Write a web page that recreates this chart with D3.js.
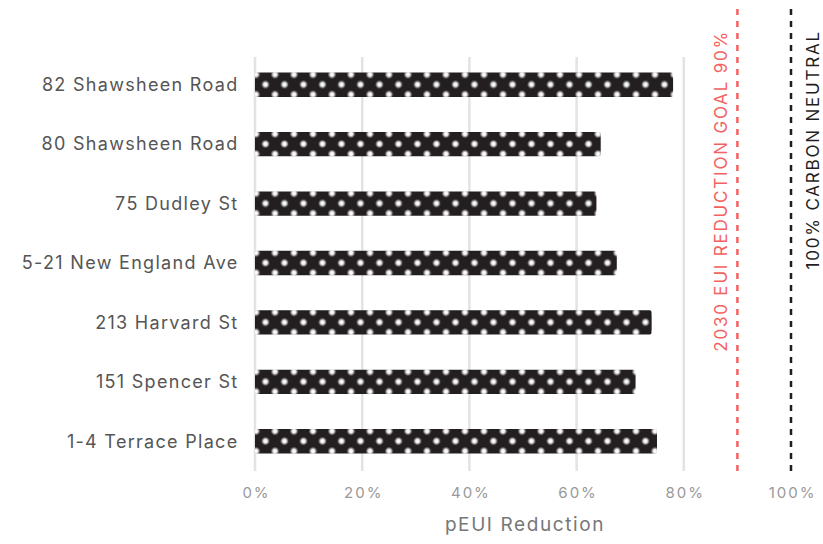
<!DOCTYPE html>
<html>
<head>
<meta charset="utf-8">
<script src="https://cdn.jsdelivr.net/npm/d3@7"></script>
<style>
  body { margin: 0; background: #fff; }
  svg { font-family: "Inter", "Roboto", sans-serif; }
</style>
</head>
<body>
<svg id="chart"></svg>
<script>
const width = 823, height = 544
const margin = {top: 55, bottom: 73, left: 255, right: 32}

// data
const buildings = ["82 Shawsheen Road", "80 Shawsheen Road", "75 Dudley St", "5-21 New England Ave", "213 Harvard St", "151 Spencer St", "1-4 Terrace Place"]
const reductions = [0.78, 0.645, 0.637, 0.675, 0.74, 0.71, 0.75]
const xTicks = [0, 0.2, 0.4, 0.6, 0.8, 1.0]
const goals = [
    {value: 0.9, label: "2030 EUI REDUCTION GOAL 90%", color: "#f4625f"},
    {value: 1.0, label: "100% CARBON NEUTRAL", color: "#1f1f1f"},
]

const svg = d3.select("svg#chart")
    .attr("viewBox", [0, 0, width, height])
    .attr("width", width)
    .attr("height", height)

const xScale = d3.scaleLinear()
    .domain([0, 1])
    .range([margin.left, 791])

const yScale = d3.scaleBand()
    .domain(buildings)
    .range([margin.top, height - margin.bottom])
    .paddingInner(0.59)
    .paddingOuter(0.295)

const defs = svg.append("defs")

const grad = defs.append("radialGradient").attr("id", "dot-grad")
grad.append("stop").attr("offset", "0%").attr("stop-color", "#fff").attr("stop-opacity", 1)
grad.append("stop").attr("offset", "40%").attr("stop-color", "#fff").attr("stop-opacity", 0.95)
grad.append("stop").attr("offset", "100%").attr("stop-color", "#fff").attr("stop-opacity", 0)

// one dotted pattern per bar so every bar starts on the same dot row
defs.selectAll("pattern")
    .data(buildings)
    .enter()
    .append("pattern")
    .attr("id", (d, i) => `dots-${i}`)
    .attr("patternUnits", "userSpaceOnUse")
    .attr("width", 19)
    .attr("height", 20)
    .attr("x", xScale(0) - 3.75)
    .attr("y", d => yScale(d) - 3)
    .each(function () {
        const p = d3.select(this)
        p.append("rect").attr("width", 19).attr("height", 20).attr("fill", "#231f20")
        const pts = [[4.75, 5], [14.25, 15], [-4.75, 15], [23.75, 15], [4.75, 25], [4.75, -5], [14.25, -5], [-4.75, -5], [23.75, -5]]
        p.selectAll("circle")
            .data(pts)
            .enter()
            .append("circle")
            .attr("cx", d => d[0])
            .attr("cy", d => d[1])
            .attr("r", 4.3)
            .attr("fill", "url(#dot-grad)")
    })

// grid lines
svg.append("g").classed("v-grid", true)
    .selectAll("line")
    .data(xTicks.filter(d => d < 1))
    .enter()
    .append("line")
    .attr("x1", d => xScale(d))
    .attr("x2", d => xScale(d))
    .attr("y1", 57)
    .attr("y2", 471)
    .attr("stroke", "#e3e3e3")
    .attr("stroke-width", 2.5)

// bars
svg.append("g").classed("bars", true)
    .selectAll("rect")
    .data(buildings)
    .enter()
    .append("rect")
    .attr("x", xScale(0))
    .attr("y", d => yScale(d))
    .attr("width", (d, i) => xScale(reductions[i]) - xScale(0))
    .attr("height", yScale.bandwidth())
    .attr("rx", 2)
    .attr("fill", (d, i) => `url(#dots-${i})`)

// y labels
svg.append("g").classed("y-labels", true)
    .selectAll("text")
    .data(buildings)
    .enter()
    .append("text")
    .attr("x", 238.5)
    .attr("y", d => yScale(d) + yScale.bandwidth() / 2)
    .attr("dy", "0.35em")
    .attr("text-anchor", "end")
    .attr("font-size", 18)
    .attr("letter-spacing", 1.3)
    .attr("fill", "#555")
    .text(d => d)

// x axis
const xAxis = svg.append("g").classed("x-axis", true)
    .attr("transform", `translate(0, 493)`)
    .call(d3.axisBottom(xScale).tickValues(xTicks).tickFormat(d3.format(".0%")).tickSize(0).tickPadding(0))
xAxis.select(".domain").remove()
xAxis.selectAll("text")
    .attr("dy", "0.35em")
    .attr("dx", 1)
    .attr("font-size", 15)
    .attr("letter-spacing", 2)
    .attr("font-family", "Inter, Roboto, sans-serif")
    .attr("fill", "#999")

svg.append("text")
    .attr("x", (xScale(0) + xScale(1)) / 2 + 2)
    .attr("y", 524)
    .attr("dy", "0.35em")
    .attr("text-anchor", "middle")
    .attr("font-size", 19)
    .attr("letter-spacing", 1.6)
    .attr("fill", "#777")
    .text("pEUI Reduction")

// goal lines
const goalG = svg.append("g").classed("goals", true)
goalG.selectAll("line")
    .data(goals)
    .enter()
    .append("line")
    .attr("x1", d => xScale(d.value))
    .attr("x2", d => xScale(d.value))
    .attr("y1", 9)
    .attr("y2", 476)
    .attr("stroke", d => d.color)
    .attr("stroke-width", 2.5)
    .attr("stroke-dasharray", "6,6")

goalG.selectAll("text")
    .data(goals)
    .enter()
    .append("text")
    .attr("transform", d => `translate(${xScale(d.value) + (d.value < 1 ? -10 : 28)}, 30) rotate(-90)`)
    .attr("text-anchor", "end")
    .attr("font-size", 17)
    .attr("letter-spacing", 1.8)
    .attr("fill", d => d.color)
    .text(d => d.label)
</script>
</body>
</html>
